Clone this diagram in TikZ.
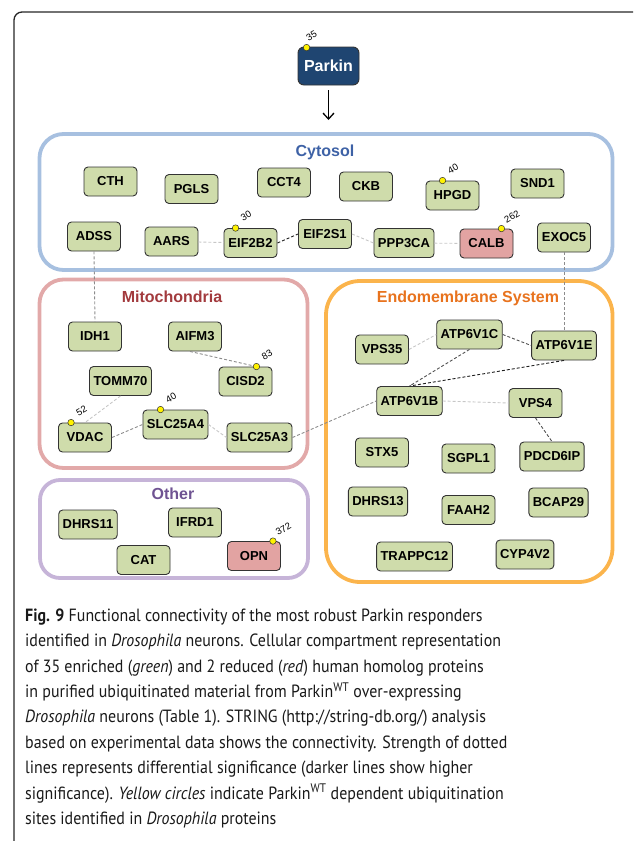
\documentclass[tikz,border=0pt]{standalone}
\usepackage{fontspec}
\setmainfont{PT Sans}[FakeStretch=0.9]
\newfontfamily\protfont{Liberation Sans}
\usetikzlibrary{arrows.meta}

\definecolor{protgreen}{HTML}{CFDCAB}
\definecolor{protred}{HTML}{E2A3A2}
\definecolor{parkinblue}{HTML}{1F4571}
\definecolor{cytoline}{HTML}{A7C0E0}
\definecolor{cytotext}{HTML}{3E62A6}
\definecolor{mitoline}{HTML}{E2A9A9}
\definecolor{mitotext}{HTML}{A23A3D}
\definecolor{endoline}{HTML}{FBB44C}
\definecolor{endotext}{HTML}{E8731E}
\definecolor{otherline}{HTML}{C6B4D8}
\definecolor{othertext}{HTML}{6F5392}
\definecolor{sitedot}{HTML}{FFF200}

\begin{document}
\begin{tikzpicture}[x=1pt,y=-1pt]
\tikzstyle{prot}=[rectangle,rounded corners=4pt,draw=black!80,line width=0.9pt,fill=protgreen,minimum width=53pt,minimum height=29pt,inner xsep=4pt,font=\protfont\bfseries\fontsize{13}{15}\selectfont]
\tikzstyle{down}=[prot,fill=protred]
\tikzstyle{site}=[circle,draw=black!80,line width=0.5pt,fill=sitedot,inner sep=0pt,minimum size=6.5pt]
\tikzstyle{sitenum}=[rotate=30,inner sep=0.5pt,font=\protfont\fontsize{9.5}{11}\selectfont]
\tikzstyle{comp}=[line width=3.8pt,rounded corners=24pt]
\tikzstyle{comptitle}=[anchor=base,font=\protfont\bfseries\fontsize{16}{18}\selectfont]
\tikzstyle{lite}=[draw=black!22,line width=0.9pt,dash pattern=on 3pt off 2pt]
\tikzstyle{mid}=[lite,draw=black!45]
\tikzstyle{dark}=[lite,draw=black!68]
\tikzstyle{darker}=[lite,draw=black!88]
\tikzstyle{caption}=[anchor=base west,align=left,inner sep=0pt,text=black!90,font=\fontsize{17.7}{25.4}\selectfont]

\useasboundingbox (0,0) rectangle (633,841);
\clip (0,0) rectangle (633,841);
\draw[line width=1.3pt,black!85,rounded corners=8pt] (14,850) -- (14,12) -- (642,12) -- (642,850);

\draw[comp,draw=cytoline] (39.5,134) rectangle (612.5,270);
\draw[comp,draw=mitoline] (39.5,279.5) rectangle (307.5,468);
\draw[comp,draw=otherline,rounded corners=20pt] (40,480) rectangle (308,578);
\draw[comp,draw=endoline,rounded corners=34pt] (326,281) rectangle (612.5,582);

\node[comptitle,text=cytotext] (cytosol) at (325,156) {Cytosol};
\node[comptitle,text=mitotext] (mito) at (172,302) {Mitochondria};
\node[comptitle,text=endotext] (endo) at (468,302) {Endomembrane System};
\node[comptitle,text=othertext] (other) at (173,499) {Other};

\node[prot,fill=parkinblue,text=white,rounded corners=6pt,minimum width=61pt,minimum height=38pt,font=\protfont\bfseries\fontsize{16}{18}\selectfont] (Parkin) at (328.5,66) {Parkin};
\coordinate (cytoin) at (328.5,120);
\draw[-{Straight Barb[length=6pt,width=11pt]},line width=1.3pt,shorten <=5pt] (Parkin) -- (cytoin);

\node[prot](CTH) at (110.5,181.5) {CTH};
\node[prot](PGLS) at (191.5,189) {PGLS};
\node[prot](CCT4) at (284,182.5) {CCT4};
\node[prot](CKB) at (366,186.5) {CKB};
\node[prot](HPGD) at (452.5,195.5) {HPGD};
\node[prot](SND1) at (537.5,183.5) {SND1};
\node[prot](ADSS) at (94,236.5) {ADSS};
\node[prot](AARS) at (171.5,241.5) {AARS};
\node[prot](EIF2B2) at (250.5,243) {EIF2B2};
\node[prot](EIF2S1) at (325,234) {EIF2S1};
\node[prot](PPP3CA) at (404,243) {PPP3CA};
\node[down](CALB) at (486.5,243.5) {CALB};
\node[prot](EXOC5) at (564,237.5) {EXOC5};

\node[prot](IDH1) at (95,336.5) {IDH1};
\node[prot](AIFM3) at (195,336.5) {AIFM3};
\node[prot](TOMM70) at (120.5,381) {TOMM70};
\node[prot](CISD2) at (245.5,381.5) {CISD2};
\node[prot](VDAC) at (85,437.5) {VDAC};
\node[prot](SLC25A4) at (175.5,424.5) {SLC25A4};
\node[prot](SLC25A3) at (259.5,437.5) {SLC25A3};

\node[prot](DHRS11) at (88,524.5) {DHRS11};
\node[prot](IFRD1) at (195,522.5) {IFRD1};
\node[prot](CAT) at (143.5,560) {CAT};
\node[down](OPN) at (254,556) {OPN};

\node[prot](ATP6V1C) at (469.5,334.5) {ATP6V1C};
\node[prot](VPS35) at (382,349.5) {VPS35};
\node[prot](ATP6V1E) at (564,345.5) {ATP6V1E};
\node[prot](ATP6V1B) at (409.5,401) {ATP6V1B};
\node[prot](VPS4) at (535.5,403) {VPS4};
\node[prot](STX5) at (382,452.5) {STX5};
\node[prot](SGPL1) at (468.5,458.5) {SGPL1};
\node[prot](PDCD6IP) at (552,456.5) {PDCD6IP};
\node[prot](DHRS13) at (378,501.5) {DHRS13};
\node[prot](FAAH2) at (468.5,510) {FAAH2};
\node[prot](BCAP29) at (558.5,502.5) {BCAP29};
\node[prot](TRAPPC12) at (414.5,556.5) {TRAPPC12};
\node[prot](CYP4V2) at (525,554.5) {CYP4V2};

\node[site](Parkin site) at ([xshift=9pt,yshift=-1pt]Parkin.north west) {};
\node[site](EIF2B2 site) at ([xshift=12pt]EIF2B2.north west) {};
\node[site](HPGD site) at ([xshift=17pt]HPGD.north west) {};
\node[site](CALB site) at ([xshift=-12pt]CALB.north east) {};
\node[site](CISD2 site) at ([xshift=-16pt]CISD2.north east) {};
\node[site](VDAC site) at ([xshift=13pt]VDAC.north west) {};
\node[site](SLC25A4 site) at ([xshift=18pt]SLC25A4.north west) {};
\node[site](OPN site) at ([xshift=-8pt]OPN.north east) {};

\node[sitenum](Parkin num) at ([xshift=5pt,yshift=12pt]Parkin site) {35};
\node[sitenum](EIF2B2 num) at ([xshift=10.5pt,yshift=12pt]EIF2B2 site) {30};
\node[sitenum](HPGD num) at ([xshift=10.5pt,yshift=12pt]HPGD site) {40};
\node[sitenum](CALB num) at ([xshift=10.5pt,yshift=12pt]CALB site) {262};
\node[sitenum](CISD2 num) at ([xshift=10.5pt,yshift=12pt]CISD2 site) {83};
\node[sitenum](VDAC num) at ([xshift=10.5pt,yshift=12pt]VDAC site) {52};
\node[sitenum](SLC25A4 num) at ([xshift=10.5pt,yshift=12pt]SLC25A4 site) {40};
\node[sitenum](OPN num) at ([xshift=10.5pt,yshift=12pt]OPN site) {372};

\draw[lite] (AARS) -- (EIF2B2);
\draw[darker] (EIF2B2.east) -- (EIF2S1.west);
\draw[lite] (EIF2S1.east) -- (PPP3CA.west);
\draw[lite] (PPP3CA) -- (CALB);
\draw[mid] (ADSS.south) -- (IDH1.north);
\draw[mid] (EXOC5.south) -- (ATP6V1E.north);
\draw[mid] ([xshift=-5pt]AIFM3.south) -- (CISD2 site);
\draw[lite] (TOMM70.south) -- (VDAC.north);
\draw[mid] (VDAC.east) -- (SLC25A4.west);
\draw[lite] (SLC25A4.east) -- (SLC25A3.west);
\draw[mid] (SLC25A3.east) -- (ATP6V1B.west);
\draw[lite] (VPS35.east) -- (ATP6V1C.west);
\draw[dark] (ATP6V1C.east) -- (ATP6V1E.west);
\draw[dark] (ATP6V1C.south) -- (ATP6V1B.north);
\draw[darker] (ATP6V1E.south) -- (ATP6V1B.north);
\draw[lite] (ATP6V1B.east) -- (VPS4.west);
\draw[dark] (VPS4.south) -- (PDCD6IP.north);

\node[caption] (caption) at (25,824.5) {\textbf{Fig. 9} Functional connectivity of the most robust Parkin responders\\
identified in \textit{Drosophila} neurons. Cellular compartment representation\\
of 35 enriched (\textit{green}) and 2 reduced (\textit{red}) human homolog proteins\\
in purified ubiquitinated material from Parkin\textsuperscript{WT} over-expressing\\
\textit{Drosophila} neurons (Table 1). STRING (http://string-db.org/) analysis\\
based on experimental data shows the connectivity. Strength of dotted\\
lines represents differential significance (darker lines show higher\\
significance). \textit{Yellow circles} indicate Parkin\textsuperscript{WT} dependent ubiquitination\\
sites identified in \textit{Drosophila} proteins};
\end{tikzpicture}
\end{document}
